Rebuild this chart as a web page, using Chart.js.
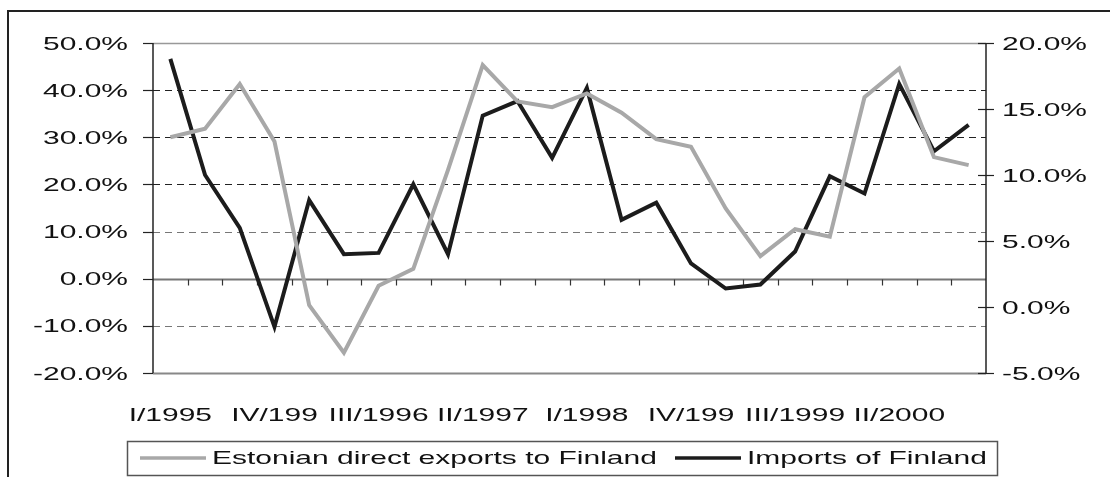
<!DOCTYPE html>
<html>
<head>
<meta charset="utf-8">
<script src="https://cdn.jsdelivr.net/npm/chart.js@4"></script>
<style>
  html, body { margin: 0; padding: 0; background: #fff; }
  #wrap { width: 1110px; height: 477px; position: relative; }
</style>
</head>
<body>
<div id="wrap"><canvas id="chart" width="1110" height="477"></canvas></div>
<script>
// quarters I/1995 .. IV/2000
const categories = [
    "I/1995", "II/1995", "III/1995", "IV/1995",
    "I/1996", "II/1996", "III/1996", "IV/1996",
    "I/1997", "II/1997", "III/1997", "IV/1997",
    "I/1998", "II/1998", "III/1998", "IV/1998",
    "I/1999", "II/1999", "III/1999", "IV/1999",
    "I/2000", "II/2000", "III/2000", "IV/2000"
];
// labels as they appear under the axis (every third quarter, clipped)
const tickLabels = [
    "I/1995", "", "", "IV/199", "", "", "III/1996", "", "", "II/1997", "", "",
    "I/1998", "", "", "IV/199", "", "", "III/1999", "", "", "II/2000", "", ""
];
const exportsToFinland = [30.0, 31.8, 41.3, 29.1, -5.6, -15.7, -1.5, 2.1, 23.1, 45.3, 37.6, 36.4,
                          39.3, 35.2, 29.6, 28.0, 14.9, 4.8, 10.5, 8.9, 38.5, 44.6, 25.8, 24.1];
const importsOfFinland = [18.8, 10.0, 6.0, -1.5, 8.1, 4.0, 4.1, 9.3, 4.0, 14.5, 15.6, 11.3,
                          16.6, 6.6, 7.9, 3.3, 1.4, 1.7, 4.2, 9.9, 8.6, 16.9, 11.8, 13.8];
const leftTicks = [50, 40, 30, 20, 10, 0, -10, -20];
const rightTicks = [20, 15, 10, 5, 0, -5];

const FONT = '18.5px "Liberation Sans", Arial, sans-serif';
const SX = 1.62; // text in the original is stretched horizontally

function stretchText(ctx, text, x, y, align) {
    const w = ctx.measureText(text).width * SX;
    let left = x;
    if (align === "right") left = x - w;
    if (align === "center") left = x - w / 2;
    ctx.save();
    ctx.translate(left, y);
    ctx.scale(SX, 1);
    ctx.textAlign = "left";
    ctx.textBaseline = "alphabetic";
    ctx.fillText(text, 0, 0);
    ctx.restore();
    return w;
}

function line(ctx, x1, y1, x2, y2, color, width, dash) {
    ctx.save();
    ctx.strokeStyle = color;
    ctx.lineWidth = width;
    ctx.setLineDash(dash || []);
    ctx.beginPath();
    ctx.moveTo(x1, y1);
    ctx.lineTo(x2, y2);
    ctx.stroke();
    ctx.restore();
}

// gridlines, axes and frame under the series
const backgroundPlugin = {
    id: "background",
    beforeDatasetsDraw(chart) {
        const ctx = chart.ctx;
        const area = chart.chartArea;
        const yL = chart.scales.y;
        const yR = chart.scales.y1;
        const x = chart.scales.x;

        // outer frame
        line(ctx, 8, 11, 1112, 11, "#222", 2);
        line(ctx, 8, 10, 8, 480, "#222", 2);

        leftTicks.forEach(v => {
            const py = Math.round(yL.getPixelForValue(v)) + 0.5;
            if (v === 50) {
                line(ctx, area.left, py, area.right, py, "#999", 1.5);
            } else if (v === -20) {
                line(ctx, area.left, py, area.right, py, "#888", 2);
            } else if (v === 10 || v === -10) {
                line(ctx, area.left, py, area.right, py, "#777", 1, [7, 5]);
            } else if (v !== 0) {
                line(ctx, area.left, py, area.right, py, "#222", 1, [7, 5]);
            }
        });

        // category axis sits at zero
        const zy = Math.round(yL.getPixelForValue(0)) + 0.5;
        line(ctx, area.left, zy, area.right, zy, "#777", 2);
        for (let i = 1; i < categories.length; i++) {
            const px = Math.round((x.getPixelForValue(i - 1) + x.getPixelForValue(i)) / 2) + 0.5;
            line(ctx, px, zy, px, zy + 6, "#333", 1.2);
        }

        // left axis
        line(ctx, area.left, area.top, area.left, area.bottom, "#222", 1.5);
        leftTicks.forEach(v => {
            const py = Math.round(yL.getPixelForValue(v)) + 0.5;
            line(ctx, area.left - 10, py, area.left, py, "#222", 1.2);
        });

        // right axis
        line(ctx, area.right, area.top, area.right, area.bottom, "#222", 1.5);
        rightTicks.forEach(v => {
            const py = Math.round(yR.getPixelForValue(v)) + 0.5;
            line(ctx, area.right - 8, py, area.right + 8, py, "#222", 1.2);
        });
    }
};

// tick labels and legend
const labelsPlugin = {
    id: "labels",
    afterDraw(chart) {
        const ctx = chart.ctx;
        const yL = chart.scales.y;
        const yR = chart.scales.y1;
        const x = chart.scales.x;
        ctx.save();
        ctx.font = FONT;
        ctx.fillStyle = "#111";

        leftTicks.forEach(v => {
            stretchText(ctx, v.toFixed(1) + "%", 128, yL.getPixelForValue(v) + 6.6, "right");
        });
        rightTicks.forEach(v => {
            stretchText(ctx, v.toFixed(1) + "%", 1002, yR.getPixelForValue(v) + 6.6, "left");
        });
        tickLabels.forEach((t, i) => {
            if (t) stretchText(ctx, t, x.getPixelForValue(i), 421, "center");
        });

        // legend box
        ctx.strokeStyle = "#555";
        ctx.lineWidth = 1.5;
        ctx.strokeRect(127.5, 441.5, 870, 34);

        const ds = chart.data.datasets;
        const items = [
            { x: 140, ds: ds[0] },
            { x: 675, ds: ds[1] }
        ];
        items.forEach(it => {
            line(ctx, it.x, 458, it.x + 66, 458, it.ds.borderColor, 3.5);
            stretchText(ctx, it.ds.label, it.x + 72, 463.5, "left");
        });
        ctx.restore();
    }
};

new Chart(document.getElementById("chart"), {
    type: "line",
    data: {
        labels: categories,
        datasets: [
            {
                label: "Estonian direct exports to Finland",
                data: exportsToFinland,
                yAxisID: "y",
                borderColor: "#a8a8a8",
                borderWidth: 4,
                pointRadius: 0,
                tension: 0,
                fill: false
            },
            {
                label: "Imports of Finland",
                data: importsOfFinland,
                yAxisID: "y1",
                borderColor: "#1c1c1c",
                borderWidth: 4,
                pointRadius: 0,
                tension: 0,
                fill: false
            }
        ]
    },
    options: {
        responsive: false,
        animation: false,
        events: [],
        layout: { padding: { left: 153, right: 124, top: 43, bottom: 104 } },
        plugins: {
            legend: { display: false },
            tooltip: { enabled: false },
            title: { display: false }
        },
        scales: {
            x: { type: "category", offset: true, display: false },
            y: { min: -20, max: 50, display: false },
            y1: { min: -5, max: 20, display: false, position: "right" }
        }
    },
    plugins: [backgroundPlugin, labelsPlugin]
});
</script>
</body>
</html>
